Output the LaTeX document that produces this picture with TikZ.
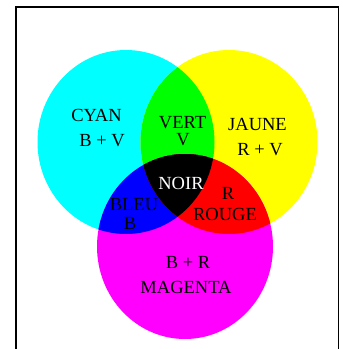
\documentclass[tikz,border=0pt]{standalone}
\usepackage{fontspec}
\setmainfont{Liberation Serif}
\definecolor{cyanRGB}{RGB}{0,255,255}
\definecolor{yellowRGB}{RGB}{255,255,0}
\definecolor{magentaRGB}{RGB}{255,0,255}
\definecolor{greenRGB}{RGB}{0,255,0}
\definecolor{redRGB}{RGB}{255,0,0}
\definecolor{blueRGB}{RGB}{0,0,255}
\tikzset{
  lbl/.style={font=\fontsize{18.5}{20}\selectfont, inner sep=0pt, anchor=center},
  frameline/.style={draw=black, line width=1.4pt}
}
\begin{document}
\begin{tikzpicture}[x=1pt,y=-1pt]
\useasboundingbox (0,0) rectangle (347,349);
% frame
\draw[frameline] (15.8,352) -- (15.8,6.8) -- (338.2,6.8) -- (338.2,352);
% circles
\fill[cyanRGB] (126,142) ellipse [x radius=88.5, y radius=92];
\fill[yellowRGB] (229,142) ellipse [x radius=88.5, y radius=92];
\fill[magentaRGB] (185,246.5) ellipse [x radius=88, y radius=92.5];
\begin{scope}
  \clip (126,142) ellipse [x radius=88.5, y radius=92];
  \fill[greenRGB] (229,142) ellipse [x radius=88.5, y radius=92];
\end{scope}
\begin{scope}
  \clip (126,142) ellipse [x radius=88.5, y radius=92];
  \fill[blueRGB] (185,246.5) ellipse [x radius=88, y radius=92.5];
\end{scope}
\begin{scope}
  \clip (229,142) ellipse [x radius=88.5, y radius=92];
  \fill[redRGB] (185,246.5) ellipse [x radius=88, y radius=92.5];
\end{scope}
\begin{scope}
  \clip (126,142) ellipse [x radius=88.5, y radius=92];
  \clip (229,142) ellipse [x radius=88.5, y radius=92];
  \fill[black] (185,246.5) ellipse [x radius=88, y radius=92.5];
\end{scope}
% labels
\node[lbl] (cyan) at (96.5,115) {CYAN};
\node[lbl] (cyanbv) at (102,141) {B + V};
\node[lbl] (vert) at (182.5,123) {VERT};
\node[lbl] (vertv) at (183,140) {V};
\node[lbl] (jaune) at (257.5,124) {JAUNE};
\node[lbl] (jaunerv) at (260,150) {R + V};
\node[lbl, text=white] (noir) at (181,183.5) {NOIR};
\node[lbl] (rougeR) at (228,193.5) {R};
\node[lbl] (rouge) at (225,214) {ROUGE};
\node[lbl] (bleu) at (134,205) {BLEU};
\node[lbl] (bleub) at (130,223) {B};
\node[lbl] (magbr) at (188,262) {B + R};
\node[lbl] (magenta) at (186,287.5) {MAGENTA};
\end{tikzpicture}
\end{document}
